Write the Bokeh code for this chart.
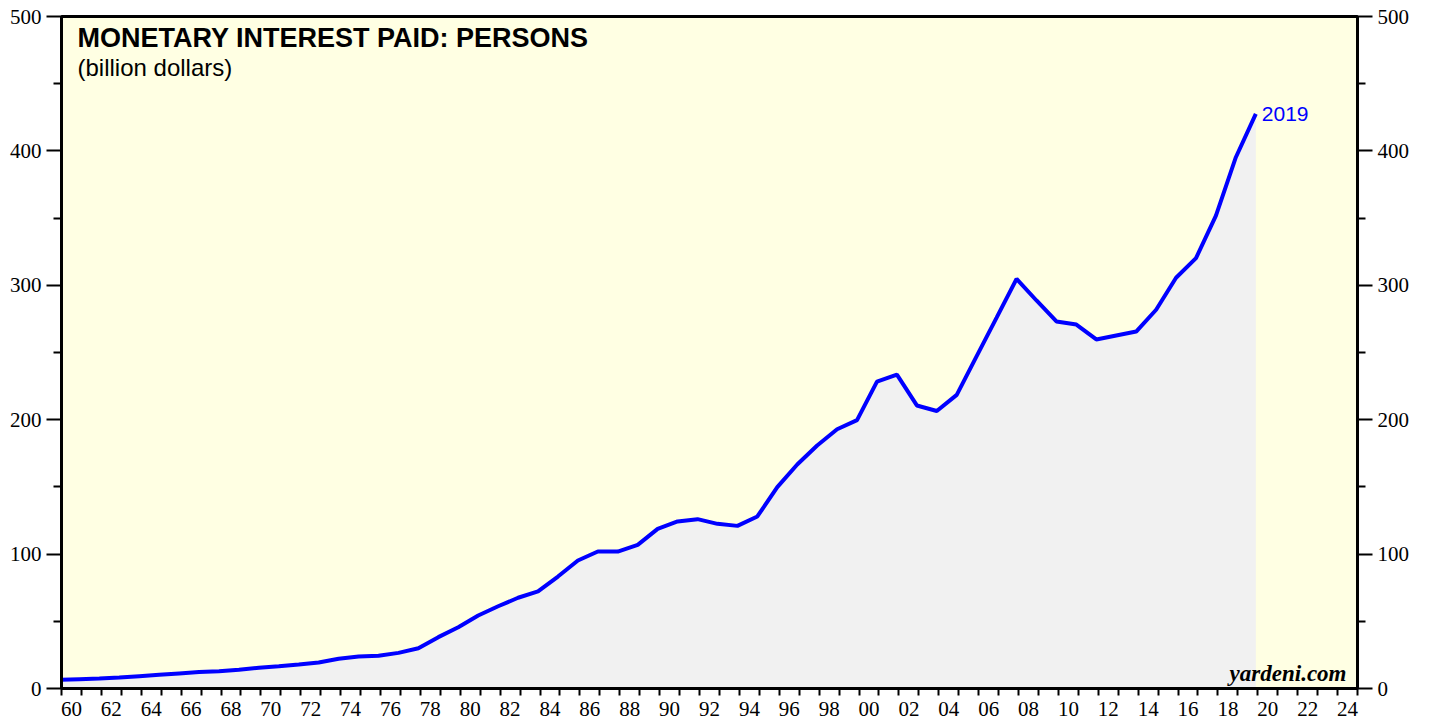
from bokeh.plotting import figure
from bokeh.models import (LinearAxis, FixedTicker, CustomJSTickFormatter, Range1d,
                          Label, ColumnDataSource)
from bokeh.embed import file_html
from bokeh.resources import INLINE

# ---- data (annual, billion dollars) ----
years = list(range(1959, 2020))
interest = [6.4, 6.9, 7.4, 8.2, 9.2, 10.2, 11.2, 12.2, 12.9, 13.9,
            15.4, 16.6, 17.9, 19.3, 22.1, 23.8, 24.3, 26.5, 30.0, 38.2,
            45.6, 54.3, 61.2, 67.5, 72.2, 83.3, 95.2, 101.9, 101.9, 106.9,
            118.8, 124.3, 126.0, 122.5, 121.0, 128.0, 149.8, 166.7, 180.8, 192.9,
            199.7, 228.3, 233.6, 210.6, 206.5, 218.5, 247.3, 276.0, 304.8, 288.7,
            273.1, 270.8, 259.7, 262.7, 265.6, 281.8, 305.6, 320.2, 351.9, 395.3,
            427.6]
y_ticks = [0, 100, 200, 300, 400, 500]
y_minor = [50, 150, 250, 350, 450]
x_label_years = list(range(1960, 2025, 2))
x_tick_years = list(range(1960, 2026))
title_text = "MONETARY INTEREST PAID: PERSONS"
subtitle_text = "(billion dollars)"
last_label = "2019"
source_text = "yardeni.com"

# position of each annual point within its year
x_offset = 0.9
xs = [y + x_offset for y in years]
zeros = [0] * len(xs)
src = ColumnDataSource(dict(x=xs, y=interest, z=zeros))

BG = "#FFFFE3"
SHADE = "#F1F1F1"
BLUE = "#0000FF"
SERIF = "Liberation Serif"
SANS = "Liberation Sans"

p = figure(frame_width=1296, frame_height=672,
           x_range=Range1d(1960, 2025), y_range=Range1d(0, 500),
           output_backend="svg", toolbar_location=None,
           min_border_left=61, min_border_right=60, min_border_top=16,
           min_border_bottom=30,
           background_fill_color=BG, border_fill_color="white",
           x_axis_location=None, y_axis_location=None)
p.grid.visible = False
p.outline_line_color = "black"
p.outline_line_width = 3

p.varea(x="x", y1="z", y2="y", source=src, fill_color=SHADE)
p.line(x="x", y="y", source=src, line_color=BLUE, line_width=4)


def style_y(ax):
    ax.ticker = FixedTicker(ticks=y_ticks, minor_ticks=y_minor)
    ax.axis_line_width = 3
    ax.axis_line_color = "black"
    ax.major_tick_in = 0
    ax.major_tick_out = 15
    ax.minor_tick_in = 0
    ax.minor_tick_out = 8
    ax.major_tick_line_width = 2
    ax.minor_tick_line_width = 2
    ax.major_label_standoff = 5
    ax.major_label_text_font = SERIF
    ax.major_label_text_font_size = "21px"
    ax.major_label_text_color = "black"


yl = LinearAxis()
style_y(yl)
p.add_layout(yl, "left")
yr = LinearAxis()
style_y(yr)
p.add_layout(yr, "right")

xa = LinearAxis()
xa.ticker = FixedTicker(ticks=[y + 0.5 for y in x_label_years], minor_ticks=x_tick_years)
xa.formatter = CustomJSTickFormatter(
    code="const y = Math.floor(tick); return String(y % 100).padStart(2, '0');")
xa.axis_line_width = 3
xa.axis_line_color = "black"
xa.major_tick_in = 0
xa.major_tick_out = 0
xa.minor_tick_in = 0
xa.minor_tick_out = 7
xa.minor_tick_line_width = 2
xa.major_label_standoff = 6
xa.major_label_text_font = SERIF
xa.major_label_text_font_size = "21px"
xa.major_label_text_color = "black"
p.add_layout(xa, "below")

p.add_layout(Label(x=16, y=651, x_units="screen", y_units="screen", text=title_text,
                   text_font=SANS, text_font_style="bold", text_font_size="27px",
                   text_color="black", text_baseline="alphabetic"))
p.add_layout(Label(x=16, y=621, x_units="screen", y_units="screen", text=subtitle_text,
                   text_font=SANS, text_font_size="24px",
                   text_color="black", text_baseline="alphabetic"))
p.add_layout(Label(x=xs[-1], y=interest[-1], x_offset=6, text=last_label,
                   text_font=SANS, text_font_size="21px",
                   text_color=BLUE, text_baseline="middle"))
p.add_layout(Label(x=1285, y=15, x_units="screen", y_units="screen", text=source_text,
                   text_font=SERIF, text_font_style="bold italic", text_font_size="23px",
                   text_color="black", text_align="right", text_baseline="alphabetic"))

open("out.html", "w").write(file_html(p, INLINE))
